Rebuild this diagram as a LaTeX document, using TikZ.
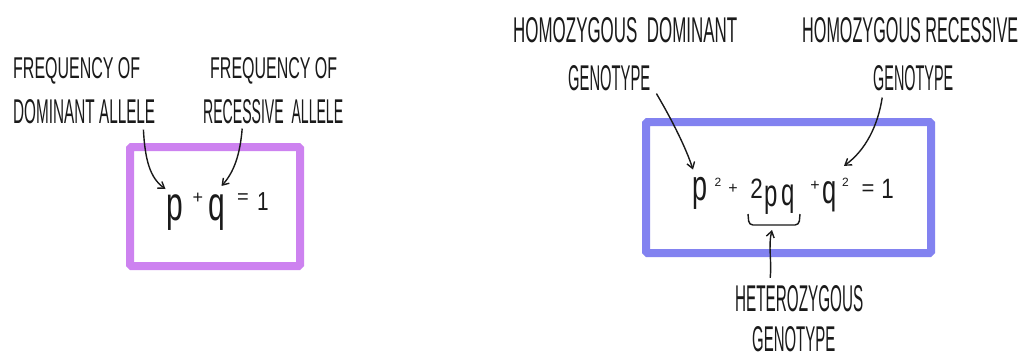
\documentclass[tikz,border=0pt]{standalone}
\usepackage{fontspec}
\setmainfont{Liberation Sans}
\usepackage{graphicx}
\usetikzlibrary{arrows.meta}
\definecolor{ink}{HTML}{1A1A1A}
\definecolor{violetbox}{RGB}{205,130,240}
\definecolor{bluebox}{RGB}{130,130,240}
\tikzset{
  lbl/.style={anchor=base west, inner sep=0pt, text=ink},
  eqbig/.style={anchor=base, inner sep=0pt, text=ink, font=\fontsize{#1}{#1}\selectfont},
  pointer/.style={draw=ink, line width=1.4pt, -{Straight Barb[length=6pt,width=8pt]}},
  framebox/.style={line width=8pt, rounded corners=1.5pt}
}
\newcommand{\hw}[3]{\resizebox{#1pt}{#2pt}{#3}}
\newcommand{\tall}[1]{\scalebox{0.75}[1.2]{#1}}
\newcommand{\narrow}[1]{\scalebox{0.8}[1]{#1}}
\begin{document}
\begin{tikzpicture}[x=1pt,y=-1pt]
\useasboundingbox (0,0) rectangle (1034,360);
\fill[white] (0,0) rectangle (1034,360);

% boxes
\draw[framebox, draw=violetbox] (130,147) rectangle (300,266);
\draw[framebox, draw=bluebox] (646,122) rectangle (931,253);

% labels
\node[lbl] (fd1) at (13,78) {\hw{127}{21}{FREQUENCY OF}};
\node[lbl] (fd2) at (13,123) {\hw{142}{24}{DOMINANT ALLELE}};
\node[lbl] (fr1) at (210,78) {\hw{127}{21}{FREQUENCY OF}};
\node[lbl] (fr2) at (203,123) {\hw{140}{24}{RECESSIVE\ \ ALLELE}};
\node[lbl] (hd1) at (513,42) {\hw{224}{25}{HOMOZYGOUS\ \ DOMINANT}};
\node[lbl] (hd2) at (568,90) {\hw{82}{25}{GENOTYPE}};
\node[lbl] (hr1) at (802,42) {\hw{216}{25}{HOMOZYGOUS RECESSIVE}};
\node[lbl] (hr2) at (873,90) {\hw{80}{25}{GENOTYPE}};
\node[lbl] (he1) at (735,311) {\hw{128}{26}{HETEROZYGOUS}};
\node[lbl] (he2) at (752,351) {\hw{83}{25}{GENOTYPE}};

% left equation
\node[eqbig=40] (lp) at (174.5,220) {\tall{p}};
\node[eqbig=18] (lplus) at (198,203) {+};
\node[eqbig=40] (lq) at (216.5,220) {\tall{q}};
\node[eqbig=20] (leq) at (243,203.5) {=};
\node[eqbig=26] (lone) at (263,210) {\narrow{1}};

% right equation
\node[eqbig=36] (rp) at (700,200) {\tall{p}};
\node[eqbig=12] (rsq1) at (718,186.5) {2};
\node[eqbig=16] (rplus1) at (733,193.5) {+};
\node[eqbig=28] (rtwo) at (756.5,198) {\narrow{2}};
\node[eqbig=32] (rpp) at (771.5,206) {\tall{p}};
\node[eqbig=32] (rqq) at (788,205) {\tall{q}};
\node[eqbig=16] (rplus2) at (815,190.5) {+};
\node[eqbig=34] (rq) at (830,203) {\tall{q}};
\node[eqbig=12] (rsq2) at (845.5,186) {2};
\node[eqbig=22] (req) at (868,195) {=};
\node[eqbig=28] (rone) at (887.5,198) {\narrow{1}};

% brace under 2pq
\draw[ink, line width=1.4pt, rounded corners=4pt] (748,214) -- (749,225) -- (799,225) -- (800,214);
\coordinate (bm) at (772,230);

% arrows
\draw[pointer] ([shift={(-12pt,-6pt)}]fd2.south east) .. controls (145,160) and (150,178) .. ([shift={(-9pt,5pt)}]lp.north);
\draw[pointer] ([shift={(-31pt,-5pt)}]fr2.south) .. controls (240,155) and (234,172) .. ([shift={(5pt,8pt)}]lq.north);
\draw[pointer] ([shift={(6pt,-3pt)}]hd2.south east) .. controls (672,120) and (686,148) .. ([shift={(-7pt,7pt)}]rp.north);
\draw[pointer] ([shift={(-31pt,-7pt)}]hr2.south) .. controls (878,125) and (866,150) .. ([shift={(14pt,15pt)}]rq.north);
\draw[pointer] ([shift={(-29pt,7pt)}]he1.north) .. controls (772,262) and (768,246) .. (bm);
\end{tikzpicture}
\end{document}
